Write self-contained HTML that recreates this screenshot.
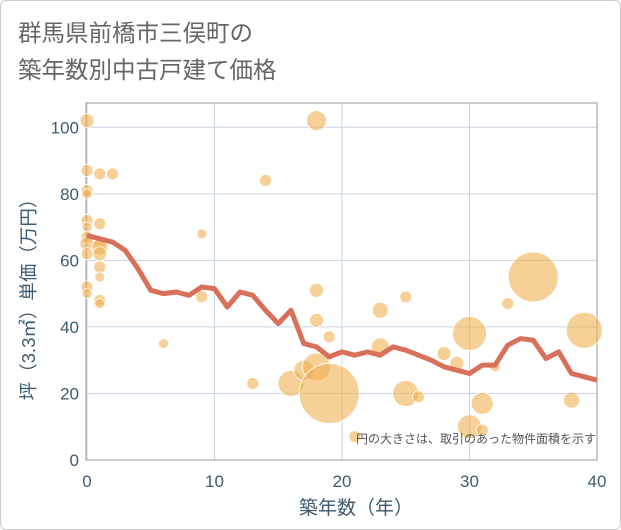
<!DOCTYPE html>
<html><head><meta charset="utf-8"><style>
body{margin:0;background:#fff;font-family:"Liberation Sans","Noto Sans CJK JP",sans-serif;}
.frame{position:absolute;left:0;top:0;width:619px;height:528px;border:1px solid #ccc;border-radius:6px;}
</style></head><body>
<div class="frame"></div>
<svg width="621" height="530" style="position:absolute;left:0;top:0">
<text x="18" y="41" font-size="23.5" fill="#666" font-family="Liberation Sans, Noto Sans CJK JP, sans-serif">群馬県前橋市三俣町の</text>
<text x="18" y="78" font-size="23.5" fill="#666" font-family="Liberation Sans, Noto Sans CJK JP, sans-serif">築年数別中古戸建て価格</text>
<g id="grid"></g>
<rect x="86" y="103" width="511" height="357" fill="none" stroke="#999" stroke-width="1"/>
<g id="bubbles"></g>
<polyline id="trend" fill="none" stroke="#d9705a" stroke-width="5" stroke-linejoin="round"/>
<g id="ticks"></g>
<text x="596" y="443" font-size="12" fill="#555" text-anchor="end" font-family="Liberation Sans, Noto Sans CJK JP, sans-serif">円の大きさは、取引のあった物件面積を示す</text>
<text x="356" y="514" font-size="19" fill="#3d5a73" text-anchor="middle" font-family="Liberation Sans, Noto Sans CJK JP, sans-serif">築年数（年）</text>
<text transform="translate(35,295) rotate(-90)" font-size="18.5" fill="#3d5a73" text-anchor="middle" font-family="Liberation Sans, Noto Sans CJK JP, sans-serif">坪（3.3㎡）単価（万円）</text>
</svg>
<script>
const xTicks=[0,10,20,30,40];
const yTicks=[0,20,40,60,80,100];
const lineYears=[0,1,2,3,4,5,6,7,8,9,10,11,12,13,14,15,16,17,18,19,20,21,22,23,24,25,26,27,28,29,30,31,32,33,34,35,36,37,38,39,40];
const lineValues=[67.5,66.5,65.5,63,57.5,51,50,50.5,49.5,52,51.5,46,50.5,49.5,45,41,45,35,34,31,32.5,31.5,32.5,31.5,34,33,31.5,30,28,27,26,28.5,28.5,34.5,36.5,36,30.5,32.5,26,25,24];
const bubbleX=[0,0,0,0,0,0,0,0,0,0,0,1,2,1,1,1,1,1,1,1,1,9,9,14,6,13,18,18,18,19,16,17,18,19,21,23,23,25,25,26,28,29,30,30,31,31,32,33,35,38,39];
const bubbleY=[102,87,81,80,72,70,67,65,62,52,50,86,86,71,65,64,62,58,55,48,47,68,49,84,35,23,102,51,42,37,23,27,28,20,7,45,34,49,20,19,32,29,38,10,17,9,28,47,55,18,39];
const bubbleR=[7,6,6,5,6,5,6,7,6,6,5,6,6,6,6,8,7,6,5,6,5,5,6,6,5,6,10,7,7,6,13,10,14,30,6,8,9,6,13,6,7,7,17,12,11,6,5,6,25,8,18];
const NS="http://www.w3.org/2000/svg";
const X=v=>87+v*(510/40);
const Y=v=>460-v*3.327;
const grid=document.getElementById('grid'),ticks=document.getElementById('ticks');
xTicks.forEach(t=>{
 const l=document.createElementNS(NS,'line');
 
 
 l.setAttribute('x1',X(t));l.setAttribute('x2',X(t));l.setAttribute('y1',103);l.setAttribute('y2',460);
 l.setAttribute('stroke','#c8d4e3');grid.appendChild(l);
 const tx=document.createElementNS(NS,'text');
 
 
 tx.setAttribute('x',X(t));tx.setAttribute('y',487);tx.setAttribute('text-anchor','middle');
 tx.setAttribute('font-size','17');tx.setAttribute('fill','#3d5a73');tx.textContent=t;ticks.appendChild(tx);
});
yTicks.forEach(t=>{
 const l=document.createElementNS(NS,'line');
 
 
 l.setAttribute('x1',86);l.setAttribute('x2',597);l.setAttribute('y1',Y(t));l.setAttribute('y2',Y(t));
 l.setAttribute('stroke','#c8d4e3');grid.appendChild(l);
 const tx=document.createElementNS(NS,'text');
 
 
 tx.setAttribute('x',79);tx.setAttribute('y',Y(t)+6);tx.setAttribute('text-anchor','end');
 tx.setAttribute('font-size','17');tx.setAttribute('fill','#3d5a73');tx.textContent=t;ticks.appendChild(tx);
});
const bg=document.getElementById('bubbles');
bubbleX.forEach((x,i)=>{
 const c=document.createElementNS(NS,'circle');
 
 
 c.setAttribute('cx',X(x));c.setAttribute('cy',Y(bubbleY[i]));c.setAttribute('r',bubbleR[i]);
 c.setAttribute('fill','rgba(240,176,80,0.6)');c.setAttribute('stroke','#fff');c.setAttribute('stroke-width','0.8');
 bg.appendChild(c);
});
document.getElementById('trend').setAttribute('points',lineYears.map((y,i)=>X(y)+','+Y(lineValues[i])).join(' '));
</script>
</body></html>
